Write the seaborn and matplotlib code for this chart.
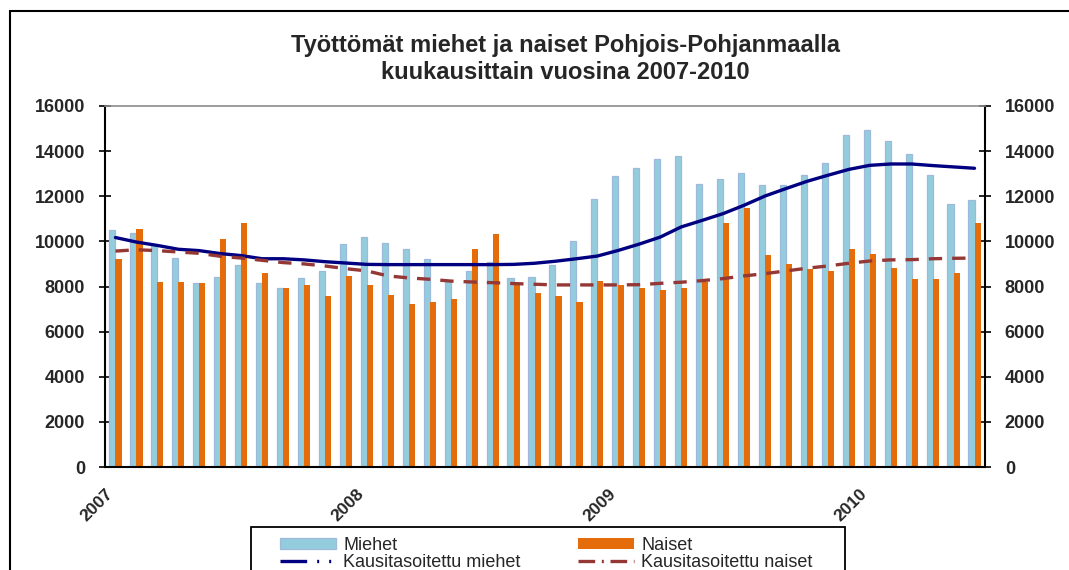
import numpy as np
import pandas as pd
import matplotlib
matplotlib.use("Agg")
import matplotlib.pyplot as plt
import seaborn as sns
from matplotlib.patches import Rectangle, Patch
from matplotlib.lines import Line2D

# ---------------- data ----------------
months = [f"{y}-{m:02d}" for y in (2007, 2008, 2009, 2010) for m in range(1, 13)][:42]
year_labels = ["2007", "2008", "2009", "2010"]
year_pos = [0, 12, 24, 36]

miehet = [10500, 10350, 9850, 9280, 8170, 8440, 8950, 8170, 7920, 8380, 8700, 9870,
          10190, 9940, 9680, 9220, 8240, 8700, 9100, 8360, 8440, 8950, 10000, 11890,
          12880, 13270, 13670, 13800, 12560, 12750, 13020, 12480, 12480, 12940, 13470, 14720,
          14920, 14450, 13860, 12940, 11640, 11830]
naiset = [9200, 10530, 8190, 8190, 8140, 10090, 10800, 8580, 7920, 8050, 7560, 8450,
          8050, 7610, 7210, 7300, 7430, 9650, 10310, 8130, 7700, 7560, 7300, 8260,
          8050, 7920, 7830, 7920, 8200, 10800, 11470, 9380, 8980, 8780, 8670, 9650,
          9430, 8810, 8320, 8320, 8580, 10800]
miehet_trend = [10170, 9970, 9820, 9650, 9590, 9460, 9370, 9230, 9230, 9180, 9100, 9040,
                8980, 8970, 8970, 8970, 8970, 8970, 8970, 8980, 9030, 9120, 9230, 9350,
                9600, 9880, 10190, 10640, 10930, 11230, 11600, 12010, 12340, 12660, 12930, 13190,
                13370, 13430, 13430, 13360, 13300, 13240]
naiset_trend = [9570, 9630, 9590, 9530, 9470, 9340, 9260, 9160, 9060, 9000, 8910, 8790,
                8690, 8470, 8380, 8320, 8240, 8200, 8170, 8130, 8100, 8070, 8070, 8070,
                8070, 8080, 8140, 8190, 8260, 8350, 8470, 8570, 8690, 8810, 8910, 9030,
                9130, 9180, 9190, 9230, 9250, 9260]

title = "Työttömät miehet ja naiset Pohjois-Pohjanmaalla\nkuukausittain vuosina 2007-2010"
series_names = ["Miehet", "Naiset"]
trend_names = ["Kausitasoitettu miehet", "Kausitasoitettu naiset"]

# ---------------- style ----------------
sns.set_style("white")
plt.rcParams["font.family"] = ["Liberation Sans", "DejaVu Sans"]

C_M = "#93CDDD"
C_M_EDGE = "#9DB9DC"
C_N = "#E46C0A"
C_MT = "#000080"
C_NT = "#953735"

W, H = 1069, 570
fig = plt.figure(figsize=(W / 100, H / 100), dpi=100)
ax = fig.add_axes([105 / W, 1 - 467 / H, 880 / W, 361 / H])

df = pd.DataFrame({
    "kk": months * 2,
    "arvo": miehet + naiset,
    "sarja": [series_names[0]] * len(months) + [series_names[1]] * len(months),
})
sns.barplot(data=df, x="kk", y="arvo", hue="sarja", order=months, hue_order=series_names,
            palette={series_names[0]: C_M, series_names[1]: C_N}, width=0.58,
            saturation=1, legend=False, ax=ax, errorbar=None)
for bar in ax.containers[0]:
    bar.set_edgecolor(C_M_EDGE)
    bar.set_linewidth(0.9)
for bar in ax.containers[1]:
    bar.set_linewidth(0)

x = np.arange(len(months))
sns.lineplot(x=x, y=miehet_trend, color=C_MT, lw=2.4, ax=ax, legend=False)
sns.lineplot(x=x, y=naiset_trend, color=C_NT, lw=2.4, ax=ax, legend=False,
             linestyle=(0, (4, 3)))

ax.set_xlim(-0.5, len(months) - 0.5)
ax.set_ylim(0, 16000)
ax.set_yticks(range(0, 16001, 2000))
ax.set_yticklabels([str(v) for v in range(0, 16001, 2000)])
ax.set_xlabel("")
ax.set_ylabel("")

ax.set_xticks(year_pos)
ax.set_xticklabels(year_labels, rotation=45, ha="right", fontsize=12.5, fontweight="bold")
ax.set_xticks(np.arange(-0.5, len(months), 1), minor=True)
ax.tick_params(axis="x", which="major", length=0, pad=14)
ax.tick_params(axis="x", which="minor", direction="inout", length=6, width=1.2, color="black")
ax.tick_params(axis="y", direction="inout", length=8.6, width=1.2, color="black",
               left=True, right=True, labelleft=True, labelright=True, pad=10,
               labelsize=13)
for lab in ax.get_yticklabels():
    lab.set_fontweight("bold")

for s in ("left", "right", "bottom"):
    ax.spines[s].set_color("black")
    ax.spines[s].set_linewidth(1.5)
ax.spines["top"].set_color("#8c8c8c")
ax.spines["top"].set_linewidth(1.2)
ax.grid(False)

fig.text(565.5 / W, 1 - 34 / H, title, ha="center", va="top", fontsize=17,
         fontweight="bold", linespacing=1.22)

# outer chart border (extends beyond image on right/bottom)
fig.add_artist(Rectangle((9.5 / W, -0.2), 2.0, 1 - 11 / H + 0.2, transform=fig.transFigure,
                         fill=False, ec="black", lw=1.5, clip_on=False))

# legend frame
fig.add_artist(Rectangle((251 / W, -0.2), (845 - 251) / W, (H - 527) / H + 0.2,
                         transform=fig.transFigure, fill=False, ec="black", lw=1.3,
                         clip_on=False))

h_m = Patch(fc=C_M, ec=C_M_EDGE, lw=0.9)
h_n = Patch(fc=C_N, ec=C_N, lw=0)
h_mt = Line2D([], [], color=C_MT, lw=2.4, linestyle=(0, (8, 3, 0.6, 3, 0.6, 3)))
h_nt = Line2D([], [], color=C_NT, lw=2.4, linestyle=(0, (5, 2, 0.6, 2)))
common = dict(loc="upper left", frameon=False, borderpad=0, handlelength=3.1,
              handletextpad=0.4, labelspacing=0.0, fontsize=13, handleheight=0.55)
fig.legend([h_m, h_mt], [series_names[0], trend_names[0]],
           bbox_to_anchor=(271 / W, 1 - 528 / H), **common)
fig.legend([h_n, h_nt], [series_names[1], trend_names[1]],
           bbox_to_anchor=(569 / W, 1 - 528 / H), **common)

fig.savefig("out.png", dpi=100)
